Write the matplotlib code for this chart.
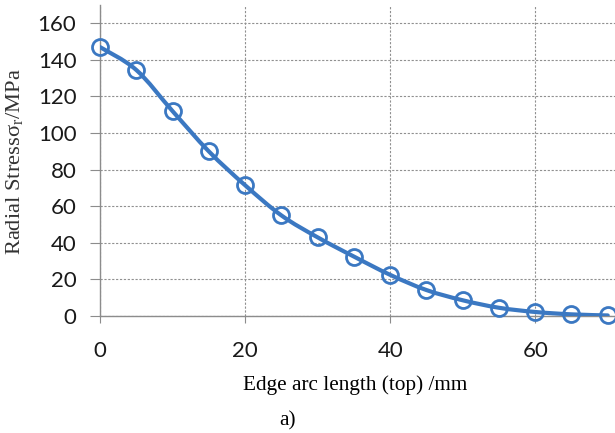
import matplotlib.pyplot as plt
import numpy as np
from matplotlib.path import Path
from matplotlib.patches import PathPatch

# data
arc_len = [0, 5, 10, 15, 20, 25, 30, 35, 40, 45, 50, 55, 60, 65, 70]
stress = [147, 134.5, 112, 90, 71.5, 55, 43, 32.5, 22.5, 14.2, 8.6, 4.5, 2.2, 0.9, 0.3]
xticks = [0, 20, 40, 60]
yticks = [0, 20, 40, 60, 80, 100, 120, 140, 160]

blue = "#3b78c2"
grey = "#8c8c8c"

plt.rcParams["mathtext.fontset"] = "custom"
plt.rcParams["mathtext.rm"] = "Liberation Serif"


def smooth_path(x, y, t=1 / 6):
    # Excel-like smoothed line as cubic Bezier segments (Catmull-Rom style)
    x = np.asarray(x, float)
    y = np.asarray(y, float)
    verts = [(x[0], y[0])]
    codes = [Path.MOVETO]
    n = len(x)
    for i in range(n - 1):
        x0, y0 = (x[i - 1], y[i - 1]) if i > 0 else (x[i], y[i])
        x3, y3 = (x[i + 2], y[i + 2]) if i + 2 < n else (x[i + 1], y[i + 1])
        c1 = (x[i] + (x[i + 1] - x0) * t, y[i] + (y[i + 1] - y0) * t)
        c2 = (x[i + 1] - (x3 - x[i]) * t, y[i + 1] - (y3 - y[i]) * t)
        verts += [c1, c2, (x[i + 1], y[i + 1])]
        codes += [Path.CURVE4] * 3
    return Path(verts, codes)


fig = plt.figure(figsize=(6.15, 4.33), dpi=100)
ax = fig.add_axes([100 / 615, 117 / 433, 515 / 615, 311 / 433])

ax.add_patch(PathPatch(smooth_path(arc_len, stress), facecolor="none",
                       edgecolor=blue, lw=3, capstyle="round", zorder=3))
ax.plot(arc_len, stress, ls="none", marker="o", ms=11.5, mfc="none",
        mec=blue, mew=2, zorder=4, clip_on=False)

ax.set_xlim(0, 71)
ax.set_ylim(0, 170)
ax.set_xticks(xticks)
ax.set_yticks(yticks)

ax.grid(True, color="#909090", ls=(0, (2, 1.5)), lw=0.8)
ax.set_axisbelow(True)
for s in ["top", "right"]:
    ax.spines[s].set_visible(False)
for s in ["left", "bottom"]:
    ax.spines[s].set_color(grey)
    ax.spines[s].set_linewidth(1)

ax.tick_params(axis="both", direction="out", color=grey,
               labelsize=16, labelcolor="#1a1a1a")
ax.tick_params(axis="x", length=5, pad=13)
ax.tick_params(axis="y", length=7, pad=10)
for lab in ax.get_xticklabels() + ax.get_yticklabels():
    lab.set_fontfamily("Lato")

serif = "Liberation Serif"
fig.text(355 / 615, (433 - 385) / 433, "Edge arc length (top) /mm",
         family=serif, fontsize=15.3, ha="center", va="center")
fig.text(287 / 615, (433 - 421) / 433, "a)", family=serif, fontsize=15.3,
         ha="center", va="center")
fig.text(15 / 615, (433 - 162) / 433, r"Radial Stressσ$_\mathrm{r}$/MPa",
         family=serif, fontsize=16.2, rotation=90, ha="center", va="center",
         color="#333333")

plt.savefig("out.png", dpi=100)
